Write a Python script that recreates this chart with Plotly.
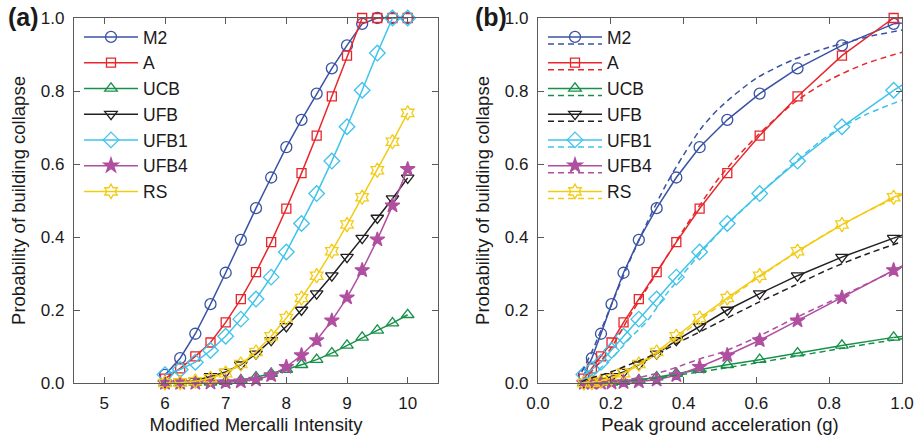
import plotly.graph_objects as go

# ---------------- data ----------------
MMI = [6.0, 6.25, 6.5, 6.75, 7.0, 7.25, 7.5, 7.75, 8.0, 8.25, 8.5, 8.75, 9.0, 9.25, 9.5, 9.75, 10.0]
PGA = [0.126, 0.148, 0.173, 0.202, 0.235, 0.277, 0.326, 0.380, 0.444, 0.520, 0.609, 0.713, 0.835, 0.977, 1.145, 1.34, 1.57]

M2 = [0.022, 0.068, 0.135, 0.216, 0.302, 0.392, 0.479, 0.563, 0.646, 0.721, 0.793, 0.862, 0.925, 0.984, 1.0, 1.0, 1.0]
A = [0.012, 0.040, 0.073, 0.111, 0.166, 0.230, 0.304, 0.386, 0.478, 0.575, 0.678, 0.785, 0.897, 1.0, 1.0, 1.0, 1.0]
UCB = [0.0, 0.0, 0.001, 0.002, 0.004, 0.008, 0.016, 0.026, 0.037, 0.050, 0.064, 0.082, 0.103, 0.125, 0.144, 0.164, 0.187]
UFB = [0.0, 0.002, 0.006, 0.018, 0.030, 0.050, 0.080, 0.117, 0.155, 0.200, 0.245, 0.294, 0.345, 0.397, 0.452, 0.505, 0.562]
UFB1 = [0.023, 0.037, 0.057, 0.089, 0.128, 0.175, 0.230, 0.290, 0.359, 0.437, 0.519, 0.608, 0.702, 0.802, 0.904, 1.0, 1.0]
UFB4 = [0.0, 0.0, 0.0, 0.001, 0.002, 0.004, 0.009, 0.021, 0.044, 0.076, 0.117, 0.171, 0.234, 0.309, 0.393, 0.486, 0.586]
RS = [0.0, 0.001, 0.005, 0.013, 0.027, 0.052, 0.085, 0.128, 0.178, 0.233, 0.294, 0.361, 0.434, 0.509, 0.583, 0.661, 0.740]

# fitted (dashed) curves in panel (b)
PGA_FIT = [0.12, 0.15, 0.2, 0.25, 0.3, 0.35, 0.4, 0.45, 0.5, 0.6, 0.7, 0.8, 0.9, 1.0]
M2_FIT = [0.03, 0.09, 0.21, 0.33, 0.44, 0.54, 0.625, 0.70, 0.755, 0.835, 0.885, 0.92, 0.947, 0.967]
A_FIT = [0.005, 0.035, 0.095, 0.18, 0.26, 0.34, 0.42, 0.495, 0.565, 0.675, 0.765, 0.83, 0.875, 0.906]
UCB_FIT = [0.0, 0.001, 0.003, 0.006, 0.011, 0.017, 0.024, 0.031, 0.039, 0.055, 0.072, 0.089, 0.106, 0.121]
UFB_FIT = [0.005, 0.015, 0.03, 0.05, 0.07, 0.092, 0.118, 0.143, 0.168, 0.218, 0.265, 0.312, 0.352, 0.387]
UFB1_FIT = [0.008, 0.025, 0.065, 0.12, 0.17, 0.24, 0.30, 0.36, 0.415, 0.51, 0.60, 0.68, 0.735, 0.775]
UFB4_FIT = [0.0, 0.001, 0.004, 0.01, 0.02, 0.033, 0.05, 0.068, 0.082, 0.125, 0.175, 0.222, 0.27, 0.318]
RS_FIT = [0.0, 0.003, 0.014, 0.034, 0.063, 0.098, 0.137, 0.176, 0.213, 0.285, 0.352, 0.414, 0.468, 0.515]

NAMES = ["M2", "A", "UCB", "UFB", "UFB1", "UFB4", "RS"]
VALUES = [M2, A, UCB, UFB, UFB1, UFB4, RS]
FITS = [M2_FIT, A_FIT, UCB_FIT, UFB_FIT, UFB1_FIT, UFB4_FIT, RS_FIT]

X_TICKS_A = [5, 6, 7, 8, 9, 10]
Y_TICKS = [0.0, 0.2, 0.4, 0.6, 0.8, 1.0]
X_TICKS_B = [0.0, 0.2, 0.4, 0.6, 0.8, 1.0]

# ---------------- styles ----------------
COLORS = ["#3953A4", "#E8262B", "#17904A", "#231F20", "#3FC3EB", "#B04FA0", "#F3CB14"]
SYMBOLS = ["circle-open", "square-open", "triangle-up-open", "triangle-down-open",
           "diamond-open", "star", "hexagram-open"]
SIZES = [11, 9, 11, 11, 12, 11, 11]

FONT = "Liberation Sans, Arial, Helvetica, sans-serif"

fig = go.Figure()

# panel (a)
for name, vals, col, sym, sz in zip(NAMES, VALUES, COLORS, SYMBOLS, SIZES):
    fig.add_trace(go.Scatter(
        x=MMI, y=vals, mode="lines+markers", name=name,
        line=dict(color=col, width=1.5),
        marker=dict(symbol=sym, size=sz, color=col, line=dict(color=col, width=1.3)),
        cliponaxis=False, xaxis="x", yaxis="y", legend="legend"))

# panel (b): solid (data) lines with markers
n_in = sum(1 for p in PGA if p <= 1.0)
for name, vals, col, sym, sz in zip(NAMES, VALUES, COLORS, SYMBOLS, SIZES):
    fig.add_trace(go.Scatter(
        x=PGA[:n_in], y=vals[:n_in], mode="lines+markers", name=name,
        line=dict(color=col, width=1.5),
        marker=dict(symbol=sym, size=sz, color=col, line=dict(color=col, width=1.3)),
        cliponaxis=False, xaxis="x2", yaxis="y2", legend="legend2"))
    fig.add_trace(go.Scatter(
        x=PGA[n_in - 1:], y=vals[n_in - 1:], mode="lines", showlegend=False,
        line=dict(color=col, width=1.5), hoverinfo="skip",
        xaxis="x2", yaxis="y2"))

# panel (b): dashed fitted curves
for name, fit, col in zip(NAMES, FITS, COLORS):
    fig.add_trace(go.Scatter(
        x=PGA_FIT, y=fit, mode="lines", name=" ",
        line=dict(color=col, width=1.5, dash="6px,4px", shape="spline", smoothing=0.8),
        xaxis="x2", yaxis="y2", legend="legend3"))

axis_common = dict(
    showline=True, linecolor="#5a5a5a", linewidth=1.3, mirror="ticks",
    ticks="inside", ticklen=6, tickwidth=1.2, tickcolor="#5a5a5a",
    showgrid=False, zeroline=False, automargin=False,
    tickfont=dict(family=FONT, size=17, color="#1a1a1a"),
    title_font=dict(family=FONT, size=18.5, color="#1a1a1a"),
)

dom_a = [0.0, (438 - 74) / 828]
dom_b = [(538 - 74) / 828, 1.0]

leg_common = dict(xanchor="left", yanchor="top", bgcolor="rgba(0,0,0,0)",
                  font=dict(family=FONT, size=17.5), itemwidth=54, borderwidth=0)
LEG_TOP = 1.0 - 1 / 365

fig.update_layout(
    width=919, height=438,
    margin=dict(l=74, r=17, t=18, b=55),
    paper_bgcolor="white", plot_bgcolor="white",
    font=dict(family=FONT, color="#1a1a1a"),
    xaxis=dict(axis_common, domain=dom_a, range=[4.5, 10.5], tickvals=X_TICKS_A,
               title=dict(text="Modified Mercalli Intensity", standoff=6), anchor="y", ticklabelstandoff=4),
    yaxis=dict(axis_common, domain=[0, 1], range=[0, 1], tickvals=Y_TICKS, tickformat=".1f",
               title=dict(text="Probability of building collapse", standoff=10), anchor="x", ticklabelstandoff=5),
    xaxis2=dict(axis_common, domain=dom_b, range=[0, 1], tickvals=X_TICKS_B, tickformat=".1f",
                title=dict(text="Peak ground acceleration (g)", standoff=6), anchor="y2", ticklabelstandoff=4),
    yaxis2=dict(axis_common, domain=[0, 1], range=[0, 1], tickvals=Y_TICKS, tickformat=".1f",
                title=dict(text="Probability of building collapse", standoff=10), anchor="x2", ticklabelstandoff=5),
    legend=dict(leg_common, x=(79 - 74) / 828, y=LEG_TOP),
    legend2=dict(leg_common, x=(543 - 74) / 828, y=LEG_TOP),
    legend3=dict(leg_common, x=(543 - 74) / 828, y=LEG_TOP - 7 / 365),
    showlegend=True,
    annotations=[
        dict(text="<b>(a)</b>", xref="paper", yref="paper", x=(23 - 74) / 828, y=(383 - 17) / 365,
             xanchor="center", yanchor="middle", showarrow=False, font=dict(family=FONT, size=25)),
        dict(text="<b>(b)</b>", xref="paper", yref="paper", x=(491 - 74) / 828, y=(383 - 17) / 365,
             xanchor="center", yanchor="middle", showarrow=False, font=dict(family=FONT, size=25)),
    ],
)

fig.write_html("out.html", config={"displayModeBar": False},
               post_script="document.body.style.margin='0';document.body.style.padding='0';")
